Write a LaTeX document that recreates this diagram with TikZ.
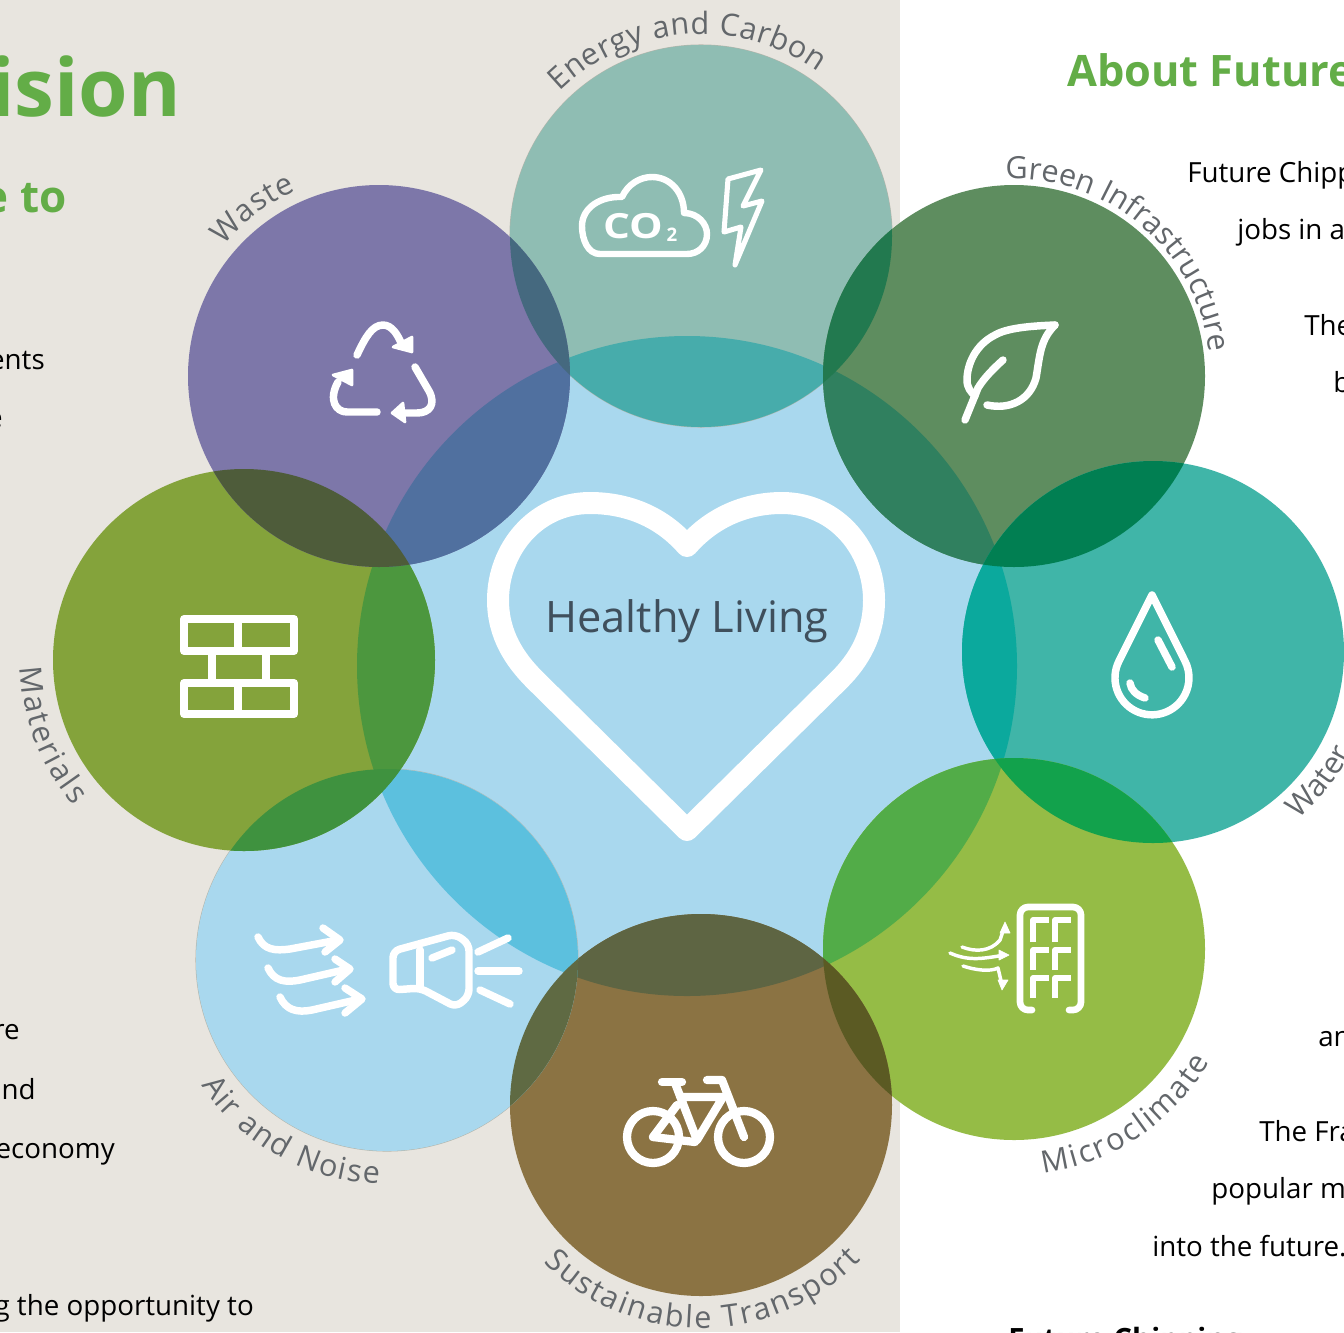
\documentclass[tikz,border=0pt]{standalone}
\usepackage{graphicx}
\usepackage{fontspec}
\setmainfont{Open Sans}
\usetikzlibrary{decorations.text}
\definecolor{panel}{HTML}{E8E5DF}
\definecolor{heading}{HTML}{63AD47}
\definecolor{lbl}{HTML}{63676B}
\definecolor{heartink}{HTML}{3F4F5C}
\newcommand\lblfont{\fontsize{23}{23}\selectfont}
\newcommand\arclabel[6]{%
  \path[decorate,decoration={text along path,text color=lbl,text align={#6},text={|\lblfont|#5}}]
    (#1) ++(#2:#4) arc[start angle=#2,end angle=#3,radius=#4];}
\newcommand\disc[2]{\definecolor{tmpc}{HTML}{#2}\fill[tmpc] (#1) circle[radius=191];}
\newcommand\lens[3]{\definecolor{tmpc}{HTML}{#3}\begin{scope}\clip (#1) circle[radius=191];\fill[tmpc] (#2) circle[radius=191];\end{scope}}
\newcommand\lensC[2]{\definecolor{tmpc}{HTML}{#2}\begin{scope}\clip (cC) circle[radius=330];\fill[tmpc] (#1) circle[radius=191];\end{scope}}
\tikzset{
  body/.style={font=\fontsize{20.8}{21}\selectfont,text=black,inner sep=0pt,anchor=base east},
  bodyw/.style={font=\fontsize{20.8}{21}\selectfont,text=black,inner sep=0pt,anchor=base west},
  icon/.style={draw=white,line width=5.6pt,line cap=round,line join=round},
  tiphead/.style={fill=white,draw=white,line width=2pt,line join=round}
}
\begin{document}
\begin{tikzpicture}[x=0.75pt,y=-0.75pt]
\useasboundingbox (0,0) rectangle (1344,1332);
\clip (0,0) rectangle (1344,1332);
\fill[white] (0,0) rectangle (1344,1332);
\fill[panel] (0,0) rectangle (900,1332);
% text behind
\node[body,font=\fontsize{60}{60}\selectfont\bfseries,text=heading] (t1) at (181,116) {ision};
\node[body,font=\fontsize{33}{33}\selectfont\bfseries,text=heading] (t2) at (67,212) {e to};
\node[body] (t3) at (45,369) {ents};
\node[body] (t4) at (3,427) {e};
\node[body] (t5) at (20,1039) {re};
\node[body] (t6) at (36,1099) {and};
\node[body] (t7) at (115,1158) {economy};
\node[body] (t8) at (254,1315) {g the opportunity to};
\node[bodyw,font=\fontsize{32.5}{33}\selectfont\bfseries,text=heading] (t9) at (1067,86) {About Future};
\node[bodyw] (t10) at (1187,182) {Future Chipping};
\node[bodyw] (t11) at (1237,239) {jobs in a};
\node[bodyw] (t12) at (1304,335) {The};
\node[bodyw] (t13) at (1333,392) {b};
\node[bodyw] (t14) at (1318,1046) {an};
\node[bodyw] (t15) at (1259,1141) {The Fra};
\node[bodyw] (t16) at (1211,1198) {popular m};
\node[bodyw] (t17) at (1152,1256) {into the future.};
\node[bodyw,font=\fontsize{22}{22}\selectfont\bfseries] (t18) at (1008,1349) {Future Chipping};
% centres
\coordinate (cC) at (687,666);
\coordinate (cE) at (701,236);
\coordinate (cG) at (1014,376);
\coordinate (cW) at (1153,652);
\coordinate (cM) at (1014,949);
\coordinate (cT) at (701,1105);
\coordinate (cA) at (387,960);
\coordinate (cB) at (244,660);
\coordinate (cR) at (379,376);
% base discs
\definecolor{centrefill}{HTML}{A9D8EE}
\definecolor{edgegrey}{HTML}{B4B6AC}
\fill[centrefill] (cC) circle[radius=330];
\draw[edgegrey,line width=0.8pt] (cE) circle[radius=191];
\draw[edgegrey,line width=0.8pt] (cA) circle[radius=191];
\disc{cE}{8FBDB3}
\disc{cG}{5E8D5F}
\disc{cW}{40B5A8}
\disc{cM}{95BC46}
\disc{cT}{8B7343}
\disc{cA}{A9D8EE}
\disc{cB}{84A33B}
\disc{cR}{7D77A9}
% overlaps with the centre
\lensC{cE}{47ACAB}
\lensC{cG}{30805F}
\lensC{cW}{0BA99D}
\lensC{cM}{52AC48}
\lensC{cT}{5E6543}
\lensC{cA}{5CC0DE}
\lensC{cB}{4C973E}
\lensC{cR}{50709F}
% overlaps of neighbours
\lens{cE}{cG}{22794F}
\lens{cE}{cR}{45697F}
\lens{cG}{cW}{017F52}
\lens{cW}{cM}{12A24C}
\lens{cM}{cT}{5B5A23}
\lens{cT}{cA}{5F6A43}
\lens{cA}{cB}{3F923F}
\lens{cB}{cR}{4E5C3A}
% curved labels
\arclabel{cE}{-134.5}{-54.5}{202}{Energy and Carbon}{fit to path}
\arclabel{cG}{-92.5}{-7.5}{197}{Green Infrastructure}{fit to path}
\arclabel{cR}{-140}{-114}{203}{Waste}{fit to path}
\arclabel{cB}{178}{139.5}{224}{Materials}{fit to path}
\arclabel{cA}{146}{92}{224}{Air and Noise}{fit to path}
\arclabel{cT}{135}{44}{223}{Sustainable Transport}{fit to path}
\arclabel{cM}{82.5}{30}{226}{Microclimate}{fit to path}
\arclabel{cW}{49}{5}{222}{Water}{left}
% heart
\draw[white,line width=16.5pt,line join=round]
 (687,546) .. controls (660,515) and (625,503) .. (590,503)
 .. controls (535,503) and (498,550) .. (498,600)
 .. controls (498,635) and (515,660) .. (535,680) -- (687,830) -- (839,680)
 .. controls (859,660) and (874,635) .. (874,600)
 .. controls (874,550) and (837,503) .. (782,503)
 .. controls (749,503) and (714,515) .. (687,546) -- cycle;
\node[font=\fontsize{32.5}{33}\selectfont,text=heartink,inner sep=0pt] (heart) at (687,621) {Healthy Living};
% Energy icon
\draw[icon,line width=4.8pt] (600,254) .. controls (588,254) and (582,240) .. (582,226)
 .. controls (582,208) and (600,196) .. (622,197) .. controls (628,184) and (640,177) .. (652,177)
 .. controls (670,177) and (684,192) .. (684,213) .. controls (698,213) and (707,224) .. (707,234)
 .. controls (707,246) and (698,254) .. (687,254) -- cycle;
\node[text=white,inner sep=0pt,font=\fontsize{26}{26}\selectfont\bfseries] (co) at (633,226) {\scalebox{1.22}[1]{CO}};
\node[text=white,inner sep=0pt,font=\fontsize{14}{14}\selectfont\bfseries] (two) at (672,235) {2};
\draw[icon,line width=3.8pt] (761,170) -- (728,179) -- (724,232) -- (741,227) -- (735,265) -- (762,201) -- (743,206) -- cycle;
% Recycle icon
\draw[icon] (357,355) .. controls (365,338) and (372,325) .. (383,325) .. controls (392,325) and (398,335) .. (402,345);
\fill[tiphead] (412,337) -- (412,352) -- (393,347) -- cycle;
\draw[icon] (415,367) -- (429,391) .. controls (436,404) and (430,413) .. (417,413) -- (400,413);
\fill[tiphead] (392,413) -- (403,403) -- (405,422) -- cycle;
\draw[icon] (377,412) -- (347,412) .. controls (336,412) and (328,400) .. (338,382);
\fill[tiphead] (333,375) -- (352,370) -- (352,385) -- cycle;
% Leaf icon
\draw[icon] (1055,325) .. controls (1030,326) and (1007,328) .. (995,335) .. controls (975,345) and (967,365) .. (967,380) .. controls (967,388) and (971,392) .. (975,396);
\draw[icon] (1055,325) .. controls (1040,340) and (1040,355) .. (1036,378) .. controls (1030,400) and (1010,410) .. (987,405);
\draw[icon] (965,420) -- (978,388) .. controls (984,378) and (994,368) .. (1003,360);
% Bricks icon
\draw[icon,line width=6.2pt,line cap=butt] (184,619) rectangle (294,651);
\draw[icon,line width=6.2pt,line cap=butt] (184,683) rectangle (294,714);
\draw[icon,line width=6.2pt,line cap=butt] (238,619) -- (238,651);
\draw[icon,line width=6.2pt,line cap=butt] (238,683) -- (238,714);
\draw[icon,line width=6.2pt,line cap=butt] (212,651) -- (212,683);
\draw[icon,line width=6.2pt,line cap=butt] (266,651) -- (266,683);
% Drop icon
\draw[icon] (1152,595) -- (1119,661) arc[start angle=207,end angle=-27,radius=37] -- cycle;
\draw[icon] (1158,640) -- (1172,667);
\draw[icon] (1130,683) .. controls (1131,690) and (1136,695) .. (1145,698);
% Air and noise icon
\draw[icon] (258,937) .. controls (264,950) and (275,951) .. (290,949) -- (338,940);
\draw[icon] (323,928) -- (340,940) -- (325,952);
\draw[icon] (268,968) .. controls (274,981) and (285,983) .. (300,980) -- (348,969);
\draw[icon] (335,959) -- (350,969) -- (335,982);
\draw[icon] (280,997) .. controls (286,1010) and (297,1013) .. (312,1010) -- (360,999);
\draw[icon] (345,988) -- (362,999) -- (345,1013);
\draw[icon,rounded corners=5pt] (393,951) -- (455,934) -- (469,944) -- (469,996) -- (456,1007) -- (420,988) -- (393,990) -- cycle;
\draw[icon] (420,950) -- (420,988);
\draw[icon] (432,958) -- (452,950);
\draw[icon] (478,952) -- (508,938);
\draw[icon] (478,971) -- (519,971);
\draw[icon] (480,990) -- (510,1004);
% Microclimate icon
\draw[icon,line width=5pt,rounded corners=6pt] (1032,1010) -- (1020,1010) -- (1020,907) -- (1081,907) -- (1081,1010) -- (1069,1010);
\foreach \yy/\ye in {920/942,950/970,978/998}{
  \draw[icon,line width=3.8pt,line cap=butt] (1033,\ye) -- (1033,\yy) -- (1049,\yy);
  \draw[icon,line width=3.8pt,line cap=butt] (1055,\ye) -- (1055,\yy) -- (1071,\yy);
}
\draw[icon,line width=2.6pt] (962,947) .. controls (975,952) and (990,952) .. (1000,940) -- (1004,928);
\fill[tiphead,line width=.5pt] (1005,922) -- (1010,933) -- (1000,933) -- cycle;
\draw[icon,line width=2.6pt] (950,953) .. controls (970,962) and (985,958) .. (1005,955);
\fill[tiphead,line width=.5pt] (1009,955) -- (999,950) -- (999,960) -- cycle;
\draw[icon,line width=2.6pt] (963,966) .. controls (975,970) and (990,972) .. (998,968) -- (1002,985);
\fill[tiphead,line width=.5pt] (1002,990) -- (998,980) -- (1008,980) -- cycle;
% Bicycle icon
\draw[icon,line width=6.2pt] (653,1137) circle[radius=26];
\draw[icon,line width=6.2pt] (744,1137) circle[radius=26];
\draw[icon,line width=6.2pt] (662,1082) -- (682,1082);
\draw[icon,line width=6.2pt] (675,1083) -- (697,1140) -- (723,1097) -- (680,1097);
\draw[icon,line width=6.2pt] (707,1080) -- (722,1080) -- (744,1137);
\draw[icon,line width=6.2pt] (653,1137) -- (695,1142);
\draw[icon,line width=6.2pt] (677,1105) -- (653,1137);
\end{tikzpicture}
\end{document}
